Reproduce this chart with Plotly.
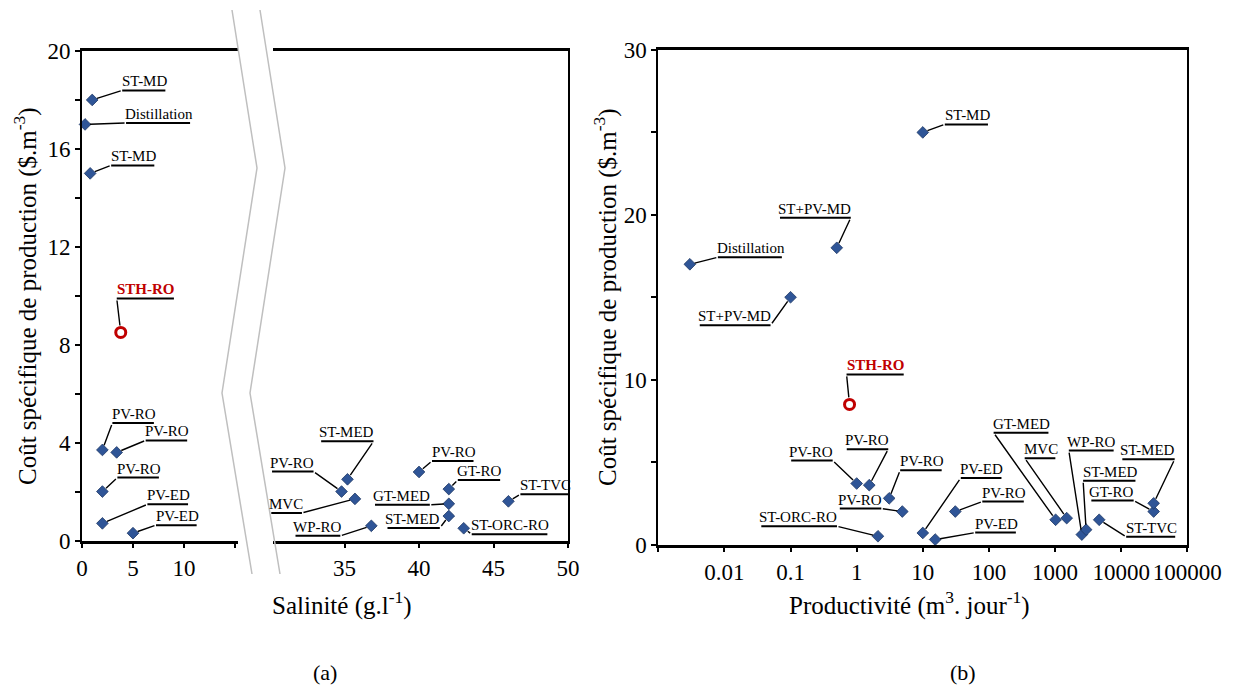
import math
import plotly.graph_objects as go

# ---------------- data ----------------
# (a) specific production cost vs salinity
a_labels = ["ST-MD", "Distillation", "ST-MD", "PV-RO", "PV-RO", "PV-RO", "PV-ED", "PV-ED",
            "PV-RO", "ST-MED", "MVC", "WP-RO", "PV-RO", "GT-RO", "GT-MED", "ST-MED",
            "ST-ORC-RO", "ST-TVC"]
a_salinity = [1.0, 0.3, 0.8, 2.0, 3.4, 2.0, 2.0, 5.0,
              34.8, 35.2, 35.7, 36.8, 40.0, 42.0, 42.0, 42.0, 43.0, 46.0]
a_cost = [18.0, 17.0, 15.0, 3.7, 3.6, 2.0, 0.7, 0.3,
          2.0, 2.5, 1.7, 0.6, 2.8, 2.1, 1.5, 1.0, 0.5, 1.6]

# (b) specific production cost vs productivity
b_labels = ["ST-MD", "ST+PV-MD", "Distillation", "ST+PV-MD", "PV-RO", "PV-RO", "PV-RO", "PV-RO",
            "ST-ORC-RO", "PV-ED", "PV-RO", "PV-ED", "GT-MED", "MVC", "WP-RO", "ST-MED",
            "ST-TVC", "GT-RO", "ST-MED"]
b_productivity = [10, 0.5, 0.003, 0.1, 1.0, 1.55, 3.1, 4.9,
                  2.1, 10, 31, 15.4, 1020, 1500, 2540, 2950,
                  4650, 31000, 31000]
b_cost = [25.0, 18.0, 17.0, 15.0, 3.7, 3.6, 2.8, 2.0,
          0.5, 0.7, 2.0, 0.3, 1.5, 1.6, 0.6, 0.9,
          1.5, 2.0, 2.5]

# studied system
sth_label = "STH-RO"
sth_salinity = [3.8]
sth_cost_a = [8.5]
sth_productivity = [0.78]
sth_cost_b = [8.5]

# ticks (labelled major ticks and unlabelled minor ticks)
a_y_vals = [0, 4, 8, 12, 16, 20]
a_y_minor = [2, 6, 10, 14, 18]
a_x1_vals = [0, 5, 10]
a_x1_minor = [15]
a_x2_vals = [35, 40, 45, 50]
b_y_vals = [0, 10, 20, 30]
b_y_minor = [5, 15, 25]
b_x_vals = [0.01, 0.1, 1, 10, 100, 1000, 10000, 100000]
b_x_text = ["0.01", "0.1", "1", "10", "100", "1000", "10000", "100000"]
b_x_minor = [0.001]

# ---------------- layout / style (callout offsets in pixels: dx, dy(up), side) ----------------
a_callouts = [(30, 9.5, 'L'), (41, 1.5, 'L'), (21, 8, 'L'), (10, 27, 'L'), (29, 12, 'L'),
              (15, 14, 'L'), (45, 19, 'L'), (23, 8, 'L'),
              (-28, 20, 'R'), (26, 38, 'R'), (-53, -14, 'R'), (-31, -10, 'R'), (13, 11, 'L'),
              (9, 9, 'L'), (-19, -1, 'R'), (-9, -12, 'R'), (8, -6, 'L'), (12, 7, 'L')]
a_sth_callout = (-4, 34, 'L')
b_callouts = [(22, 8, 'L'), (14, 30, 'R'), (28, 7, 'L'), (-20, -28, 'R'), (-24, 23, 'R'),
              (19, 36, 'R'), (11, 28, 'L'), (-21, 3, 'R'), (-41, 10, 'R'), (38, 55, 'L'),
              (27, 10, 'L'), (40, 7, 'L'), (-62, 87, 'L'), (-42, 60, 'L'), (-13, 84, 'L'),
              (-3, 49, 'L'), (27, -17, 'L'), (-20, 11, 'R'), (21, 44, 'R')]
b_sth_callout = (-3, 30, 'L')

W, H = 1251, 688
FONT = "Liberation Serif"
LABEL_SIZE = 15
BLUE = "#2F5597"
DARK = "#1F3864"
RED = "#C00000"
GRAY = "#BFBFBF"

CW = {'S': .556, 'T': .611, '-': .333, 'M': .889, 'D': .722, 'i': .278, 's': .389, 't': .278,
      'l': .278, 'a': .444, 'o': .5, 'n': .5, 'H': .722, 'R': .667, 'O': .722, 'P': .556,
      'V': .722, 'E': .611, 'C': .667, 'G': .722, 'W': .944, '+': .564}


def px(x):
    return x / W


def py(y):
    return 1 - y / H


def text_w(s, bold=False):
    return sum(CW.get(c, 0.5) for c in s) * LABEL_SIZE * (1.12 if bold else 1.0)


fig = go.Figure()

marker_style = dict(symbol="diamond", size=9, color=BLUE, line=dict(color=DARK, width=0.8))
sth_style = dict(symbol="circle-open", size=10, color=RED, line=dict(color=RED, width=3))

left = [i for i, s in enumerate(a_salinity) if s < 20]
right = [i for i, s in enumerate(a_salinity) if s >= 20]

fig.add_trace(go.Scatter(x=[a_salinity[i] for i in left], y=[a_cost[i] for i in left],
                         mode="markers", marker=marker_style, xaxis="x", yaxis="y",
                         cliponaxis=False, showlegend=False, hoverinfo="skip"))
fig.add_trace(go.Scatter(x=sth_salinity, y=sth_cost_a, mode="markers", marker=sth_style,
                         xaxis="x", yaxis="y", showlegend=False, hoverinfo="skip"))
fig.add_trace(go.Scatter(x=[a_salinity[i] for i in right], y=[a_cost[i] for i in right],
                         mode="markers", marker=marker_style, xaxis="x2", yaxis="y2",
                         cliponaxis=False, showlegend=False, hoverinfo="skip"))
fig.add_trace(go.Scatter(x=b_productivity, y=b_cost, mode="markers", marker=marker_style,
                         xaxis="x3", yaxis="y3", cliponaxis=False, showlegend=False,
                         hoverinfo="skip"))
fig.add_trace(go.Scatter(x=sth_productivity, y=sth_cost_b, mode="markers", marker=sth_style,
                         xaxis="x3", yaxis="y3", showlegend=False, hoverinfo="skip"))


def add_callout(xref, yref, xval, yval, text, dx, dy, side, standoff=5,
                color="black", bold=False):
    U = text_w(text, bold) - 2
    x_start = dx
    x_end = dx + U if side == 'L' else dx - U
    # leader line from the marker to the end of the underline
    fig.add_annotation(x=xval, y=yval, xref=xref, yref=yref, text=" ", showarrow=True,
                       arrowhead=0, arrowwidth=1.4, arrowcolor="black", ax=dx, ay=-dy,
                       axref="pixel", ayref="pixel", standoff=standoff, font=dict(size=1))
    # underline
    fig.add_annotation(x=xval, y=yval, xref=xref, yref=yref, xshift=x_start, yshift=dy,
                       text=" ", showarrow=True, arrowhead=0, arrowwidth=2,
                       arrowcolor="black", ax=x_end - x_start, ay=0, axref="pixel",
                       ayref="pixel", font=dict(size=1))
    # label text
    t = "<b>%s</b>" % text if bold else text
    fig.add_annotation(x=xval, y=yval, xref=xref, yref=yref, xshift=(x_start + x_end) / 2,
                       yshift=dy, text=t, showarrow=False, xanchor="center", yanchor="bottom",
                       borderpad=0, font=dict(family=FONT, size=LABEL_SIZE, color=color))


for i, (lab, s, c) in enumerate(zip(a_labels, a_salinity, a_cost)):
    dx, dy, side = a_callouts[i]
    if s < 20:
        add_callout("x", "y", s, c, lab, dx, dy, side)
    else:
        add_callout("x2", "y2", s, c, lab, dx, dy, side)
add_callout("x", "y", sth_salinity[0], sth_cost_a[0], sth_label, *a_sth_callout,
            standoff=7, color=RED, bold=True)

for i, (lab, p, c) in enumerate(zip(b_labels, b_productivity, b_cost)):
    dx, dy, side = b_callouts[i]
    add_callout("x3", "y3", math.log10(p), c, lab, dx, dy, side)
add_callout("x3", "y3", math.log10(sth_productivity[0]), sth_cost_b[0], sth_label,
            *b_sth_callout, standoff=7, color=RED, bold=True)

# axis break (zig-zag) lines
break_lines = [[(232, 10), (257, 168), (222, 393), (252, 574)],
               [(260, 10), (285, 168), (250, 393), (280, 574)]]
for pts in break_lines:
    path = "M " + " L ".join("%f,%f" % (px(x), py(y)) for x, y in pts)
    fig.add_shape(type="path", path=path, xref="paper", yref="paper",
                  line=dict(color=GRAY, width=1.5), layer="above")

tickfont = dict(family=FONT, size=23, color="black")
common = dict(showgrid=False, zeroline=False, showline=True, linecolor="black",
              ticks="outside", ticklen=5, tickwidth=1.5, tickcolor="black",
              tickfont=tickfont, fixedrange=True, automargin=False)


def minor(vals):
    return dict(tickmode="array", tickvals=vals, ticks="outside", ticklen=5,
                tickwidth=1.5, tickcolor="black", showgrid=False)


fig.update_layout(
    width=W, height=H, autosize=False,
    margin=dict(l=0, r=0, t=0, b=0, pad=0, autoexpand=False),
    paper_bgcolor="white", plot_bgcolor="white",
    showlegend=False,
    xaxis=dict(common, domain=[px(82), px(238)], range=[0, 15.3], anchor="y", mirror=True,
               linewidth=2.5, tickmode="array", tickvals=a_x1_vals,
               ticktext=[str(v) for v in a_x1_vals], minor=minor(a_x1_minor)),
    yaxis=dict(common, domain=[py(540.5), py(51)], range=[0, 20], anchor="x", linewidth=2,
               tickmode="array", tickvals=a_y_vals, ticktext=[str(v) for v in a_y_vals],
               minor=minor(a_y_minor)),
    xaxis2=dict(common, domain=[px(273), px(568)], range=[30.2, 50], anchor="y2",
                mirror=True, linewidth=2.5, tickmode="array", tickvals=a_x2_vals,
                ticktext=[str(v) for v in a_x2_vals]),
    yaxis2=dict(common, domain=[py(540.5), py(51)], range=[0, 20], anchor="x2",
                side="right", linewidth=2, ticks="", showticklabels=False),
    xaxis3=dict(common, type="log", domain=[px(658.3), px(1187.3)], range=[-3, 5],
                anchor="y3", mirror=True, linewidth=2.5, tickmode="array",
                tickvals=b_x_vals, ticktext=b_x_text, minor=minor(b_x_minor)),
    yaxis3=dict(common, domain=[py(544.5), py(50)], range=[0, 30], anchor="x3",
                mirror=True, linewidth=2, tickmode="array", tickvals=b_y_vals,
                ticktext=[str(v) for v in b_y_vals], minor=minor(b_y_minor)),
)

title_font = dict(family=FONT, size=25, color="black")
ytitle = "Coût spécifique de production ($.m<sup>-3</sup>)"
fig.add_annotation(x=px(25), y=py(296), xref="paper", yref="paper", text=ytitle,
                   textangle=-90, showarrow=False, font=title_font,
                   xanchor="center", yanchor="middle")
fig.add_annotation(x=px(605), y=py(297), xref="paper", yref="paper", text=ytitle,
                   textangle=-90, showarrow=False, font=title_font,
                   xanchor="center", yanchor="middle")
fig.add_annotation(x=px(342), y=py(603), xref="paper", yref="paper",
                   text="Salinité (g.l<sup>-1</sup>)", showarrow=False, font=title_font,
                   xanchor="center", yanchor="middle")
fig.add_annotation(x=px(909), y=py(603), xref="paper", yref="paper",
                   text="Productivité (m<sup>3</sup>. jour<sup>-1</sup>)", showarrow=False,
                   font=title_font, xanchor="center", yanchor="middle")
fig.add_annotation(x=px(325), y=py(672), xref="paper", yref="paper", text="(a)",
                   showarrow=False, font=dict(family=FONT, size=22, color="black"),
                   xanchor="center", yanchor="middle")
fig.add_annotation(x=px(963), y=py(672), xref="paper", yref="paper", text="(b)",
                   showarrow=False, font=dict(family=FONT, size=22, color="black"),
                   xanchor="center", yanchor="middle")

fig.write_html("out.html",
               config={"displayModeBar": False},
               post_script="document.body.style.margin='0px';"
                           "document.body.style.padding='0px';"
                           "document.body.style.overflow='hidden';")
